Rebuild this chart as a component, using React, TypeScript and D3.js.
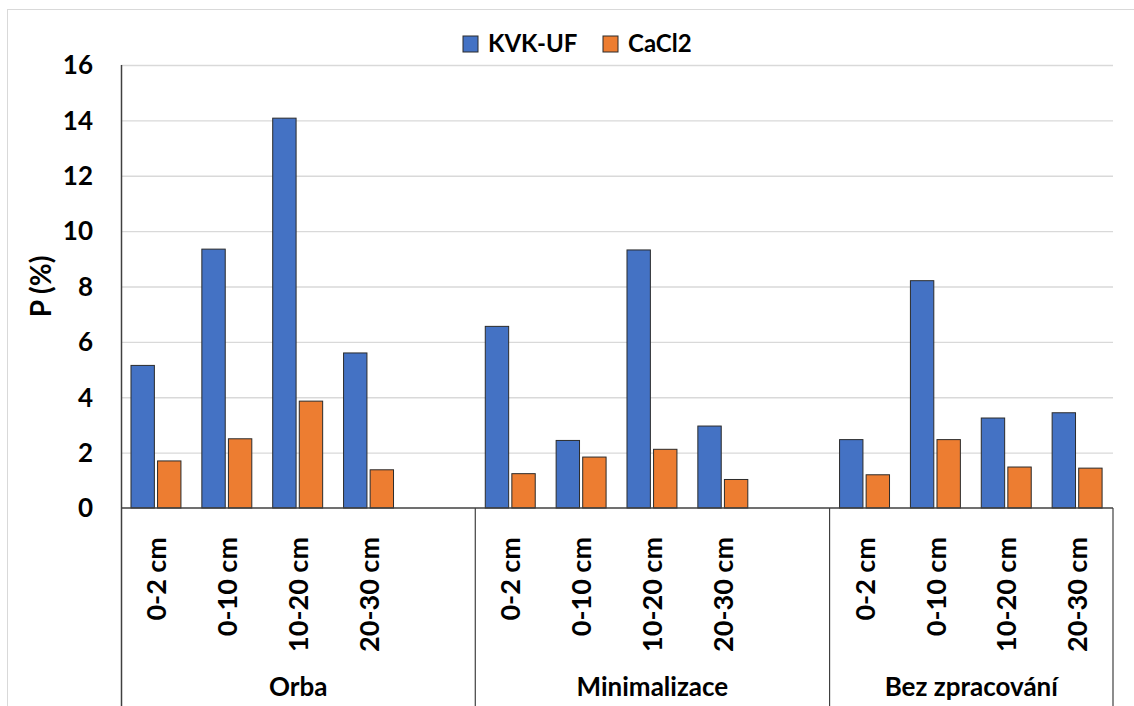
import React from "react";
import * as d3 from "d3";

const groups = ["Orba", "Minimalizace", "Bez zpracování"];
const depths = ["0-2 cm", "0-10 cm", "10-20 cm", "20-30 cm"];
const seriesNames = ["KVK-UF", "CaCl2"];
const kvkUF = [5.15, 9.35, 14.08, 5.6, 6.56, 2.44, 9.32, 2.96, 2.47, 8.21, 3.25, 3.44];
const cacl2 = [1.7, 2.5, 3.86, 1.38, 1.24, 1.84, 2.12, 1.03, 1.2, 2.47, 1.48, 1.44];
const yTicks = [0, 2, 4, 6, 8, 10, 12, 14, 16];

const W = 1134;
const H = 706;
const left = 121;
const right = 1113;
const top = 65;
const bottom = 508;
const colors = ["#4472C4", "#ED7D31"];
const font = "Lato, 'Open Sans', sans-serif";

// slots: 4 categories + 1 empty slot between groups
const slotKeys: string[] = [];
groups.forEach((g, gi) => {
  depths.forEach((d) => slotKeys.push(`${g}|${d}`));
  if (gi < groups.length - 1) slotKeys.push(`gap${gi}`);
});

export default function App() {
  const x = d3.scaleBand<string>().domain(slotKeys).range([left, right]).padding(0);
  const bw = x.bandwidth();
  const y = d3.scaleLinear().domain([0, 16]).range([bottom, top]);
  const inner = d3
    .scaleBand<string>()
    .domain(seriesNames)
    .range([bw * 0.141, bw * 0.141 + bw * 0.705])
    .paddingInner(0.12);

  const items: { key: string; g: string; d: string; vals: number[] }[] = [];
  let k = 0;
  groups.forEach((g) =>
    depths.forEach((d) => {
      items.push({ key: `${g}|${d}`, g, d, vals: [kvkUF[k], cacl2[k]] });
      k++;
    })
  );

  const groupBounds = groups.map((g) => {
    const s = x(`${g}|${depths[0]}`)!;
    const e = x(`${g}|${depths[depths.length - 1]}`)! + bw;
    return { g, s, e: groups.indexOf(g) < groups.length - 1 ? e + bw : e };
  });

  return (
    <svg
      width={W}
      height={H}
      style={{ position: "absolute", left: 0, top: 0, display: "block", background: "#fff" }}
      fontFamily={font}
      fontWeight="bold"
    >
      <rect x={7.5} y={9.5} width={W} height={H} fill="#fff" stroke="#d9d9d9" strokeWidth={1} />
      {yTicks.map((t) => (
        <g key={t}>
          {t > 0 && (
            <line x1={left} x2={right} y1={y(t) + 0.5} y2={y(t) + 0.5} stroke="#d9d9d9" strokeWidth={1.3} />
          )}
          <text x={93} y={y(t)} dy="0.36em" textAnchor="end" fontSize={26} fill="#000">
            {t}
          </text>
        </g>
      ))}
      <text
        transform={`translate(41,${(top + bottom) / 2}) rotate(-90)`}
        textAnchor="middle"
        dy="0.36em"
        fontSize={28}
        fill="#000"
      >
        P (%)
      </text>
      {items.map((it) => (
        <g key={it.key}>
          {it.vals.map((v, si) => (
            <rect
              key={si}
              x={x(it.key)! + inner(seriesNames[si])!}
              y={y(v)}
              width={inner.bandwidth()}
              height={y(0) - y(v)}
              fill={colors[si]}
              stroke="#2b2b2b"
              strokeWidth={1}
            />
          ))}
          <text
            transform={`translate(${x(it.key)! + bw * 0.5},537) rotate(-90)`}
            textAnchor="end"
            dy="0.36em"
            fontSize={27}
            fill="#000"
          >
            {it.d}
          </text>
        </g>
      ))}
      <line x1={left + 0.5} x2={left + 0.5} y1={top} y2={H} stroke="#404040" strokeWidth={1.5} />
      <line x1={left} x2={right} y1={bottom} y2={bottom} stroke="#404040" strokeWidth={1.5} />
      {groupBounds.map((b) => (
        <g key={b.g}>
          <line x1={b.e} x2={b.e} y1={bottom} y2={H} stroke="#404040" strokeWidth={1.2} />
          <text x={(b.s + b.e) / 2} y={696} textAnchor="middle" fontSize={26} fill="#000">
            {b.g}
          </text>
        </g>
      ))}
      {seriesNames.map((s, i) => {
        const lx = i === 0 ? 463 : 603;
        return (
          <g key={s}>
            <rect x={lx} y={36} width={15} height={16} fill={colors[i]} stroke="#2b2b2b" strokeWidth={1} />
            <text x={lx + 25} y={52} fontSize={24} fill="#000">
              {s}
            </text>
          </g>
        );
      })}
    </svg>
  );
}
